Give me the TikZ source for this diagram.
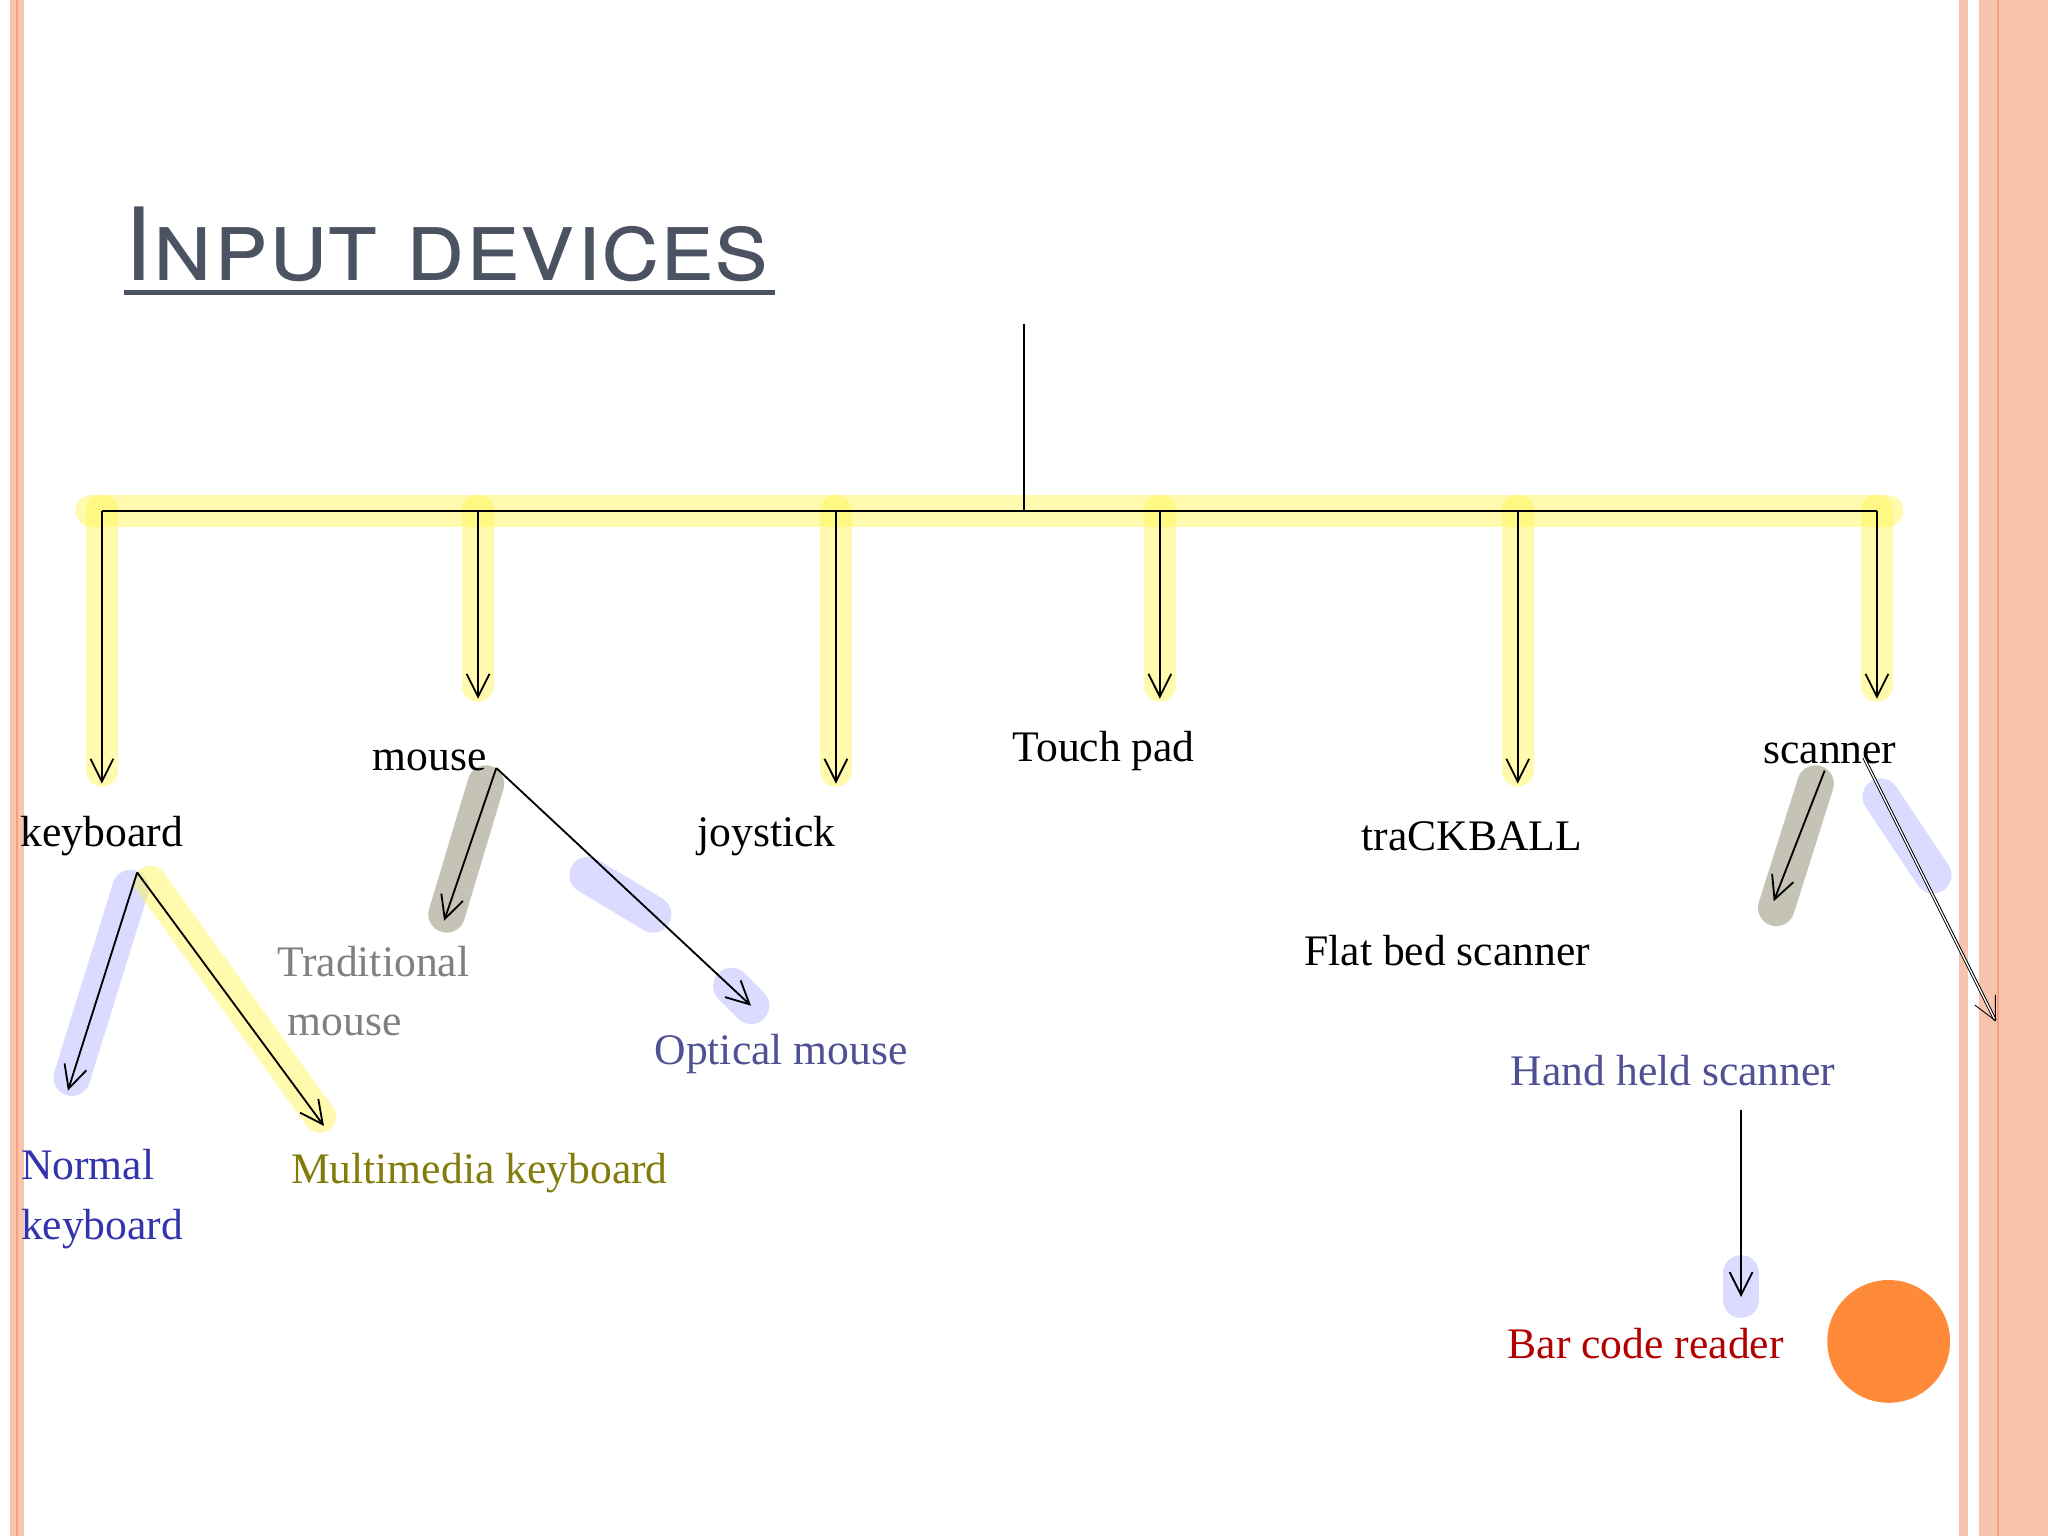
\documentclass[tikz,border=0pt]{standalone}
\usepackage{fontspec}
\usetikzlibrary{arrows.meta}
\setmainfont{TeX Gyre Heros}
\newfontfamily\hand{Liberation Serif}
\definecolor{peach}{HTML}{F9C4AE}
\definecolor{peachd}{HTML}{F4A080}
\definecolor{titlec}{HTML}{4B5262}
\definecolor{circ}{HTML}{FF8A3A}
\begin{document}
\begin{tikzpicture}[x=0.02cm,y=-0.02cm,
  lbl/.style={font=\hand\fontsize{19}{22}\selectfont,inner sep=1pt},
  arr/.style={-{Straight Barb[length=3.5mm,width=3.5mm]},thick,black},
  gy/.style={line width=14pt,yellow!70,opacity=0.45,line cap=round},
  gb/.style={line width=16pt,blue!40,opacity=0.35,line cap=round},
  gg/.style={line width=16pt,black!50!olive,opacity=0.35,line cap=round}]
\useasboundingbox (0,0) rectangle (1568,1176);
\fill[white] (0,0) rectangle (1568,1176);
% borders
\fill[peach] (8,0) rectangle (18,1176);
\draw[peachd,thick] (13,0) -- (13,1176);
\fill[peach] (1500,0) rectangle (1507,1176);
\fill[peach] (1515,0) rectangle (1568,1176);
\draw[peachd,thick] (1530,0) -- (1530,1176);
% title
\node[anchor=base west,text=titlec,font=\fontsize{44}{50}\selectfont\scshape,inner sep=0] (title) at (95,215) {Input devices};
\draw[titlec,line width=2pt] (95,224) -- (593,224);
% glows
\draw[gy] (70,391) -- (1445,391);
\foreach \x/\y in {78/590,366/525,640/590,888/525,1162/590,1437/525} \draw[gy] (\x,391) -- (\x,\y);
\draw[gb] (100,680) -- (55,825);
\draw[gy] (115,675) -- (245,855);
\draw[gg] (372,600) -- (342,700);
\draw[gb] (450,670) -- (500,700);
\draw[gb] (560,755) -- (575,770);
\draw[gg] (1390,600) -- (1360,695);
\draw[gb] (1440,610) -- (1480,670);
\draw[gb] (1333,975) -- (1333,995);
% tree
\coordinate (top) at (784,248);
\coordinate (mid) at (784,391);
\coordinate (L) at (78,391);
\coordinate (R) at (1437,391);
\draw[thick] (top) -- (mid);
\draw[thick] (L) -- (R);
\foreach \x/\y in {78/600,366/535,640/600,888/535,1162/600,1437/535}
  \draw[arr] (\x,391) -- (\x,\y);
\node[lbl] (kb) at (78,640) {keyboard};
\node[lbl] (mouse) at (329,582) {mouse};
\node[lbl] (joy) at (587,640) {joystick};
\node[lbl] (tp) at (845,575) {Touch pad};
\node[lbl] (tb) at (1127,640) {traCKBALL};
\node[lbl] (sc) at (1401,577) {scanner};
\node[lbl] (fb) at (1108,728) {Flat bed scanner};
\node[lbl,text=blue!60!black!80,align=left,anchor=north west] (nk) at (14,878) {Normal\\[4pt]keyboard};
\node[lbl,text=olive!90!black] (mk) at (367,898) {Multimedia keyboard};
\node[lbl,text=gray,align=left,anchor=north west] (tm) at (210,722) {Traditional\\[4pt]\ mouse};
\node[lbl,text=blue!30!gray!90!black] (om) at (598,807) {Optical mouse};
\node[lbl,text=blue!30!gray!90!black] (hh) at (1281,820) {Hand held scanner};
\node[lbl,text=red!70!black] (bc) at (1260,1029) {Bar code reader};
\coordinate (k0) at (105,668);
\draw[arr] (k0) -- (52,835);
\draw[arr] (k0) -- (248,862);
\coordinate (m0) at (380,588);
\draw[arr] (m0) -- (340,705);
\draw[arr] (m0) -- (575,770);
\draw[arr] (1397,590) -- (1358,690);
\draw[arr,double,thin] (1427,580) -- (1528,782);
\draw[arr] (1333,850) -- (1333,993);
\fill[circ] (1446,1027) circle (47);
\end{tikzpicture}
\end{document}
